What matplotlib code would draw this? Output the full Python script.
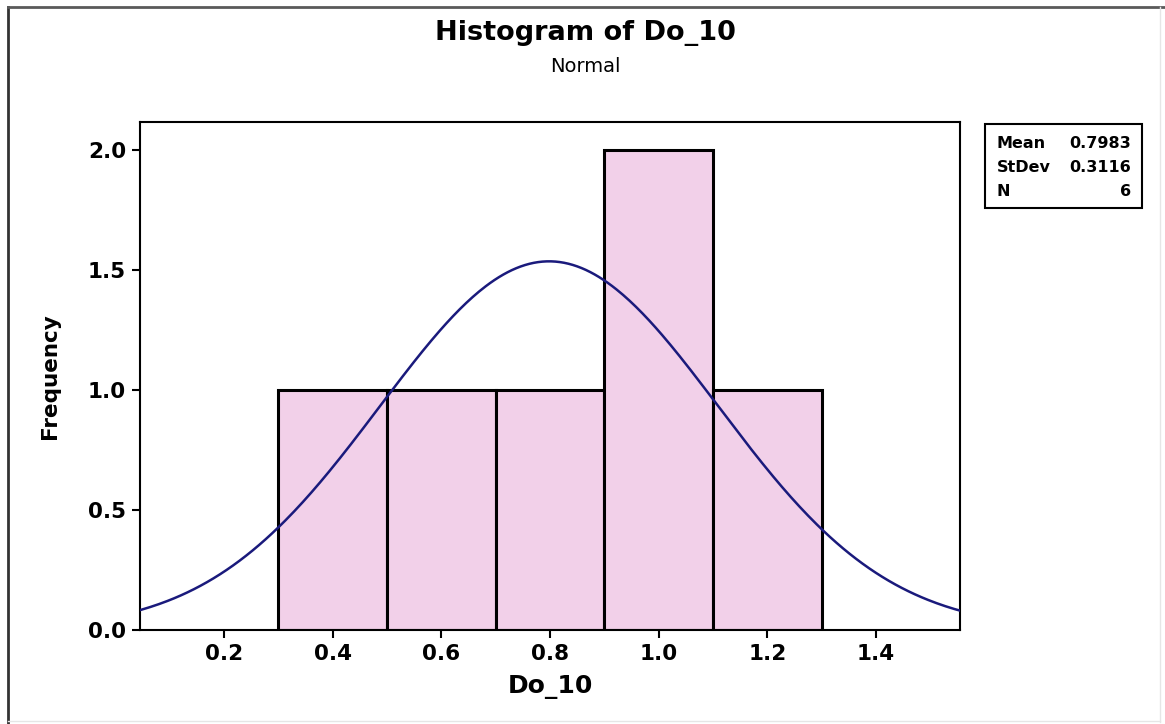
import numpy as np
import matplotlib
matplotlib.use("Agg")
import matplotlib.pyplot as plt
from matplotlib.lines import Line2D
from matplotlib.patches import Rectangle

# Data
bin_edges = [0.3, 0.5, 0.7, 0.9, 1.1, 1.3]
counts = [1, 1, 1, 2, 1]
mean_val = 0.7983
stdev_val = 0.3116
n_val = 6
x_ticks = [0.2, 0.4, 0.6, 0.8, 1.0, 1.2, 1.4]
y_ticks = [0.0, 0.5, 1.0, 1.5, 2.0]

plt.rcParams['font.family'] = ['DejaVu Sans']

W, H = 1165, 724
fig = plt.figure(figsize=(W / 100, H / 100), dpi=100)
ax = fig.add_axes([140 / W, 1 - 630 / H, (960 - 140) / W, (630 - 122) / H])

lefts = bin_edges[:-1]
widths = np.diff(bin_edges)
ax.bar(lefts, counts, width=widths, align='edge', color='#f2d0e9',
       edgecolor='black', linewidth=2.2, zorder=2)

binw = widths[0]
xs = np.linspace(0.0, 1.6, 400)
ys = n_val * binw / (stdev_val * np.sqrt(2 * np.pi)) * np.exp(-0.5 * ((xs - mean_val) / stdev_val) ** 2)
ax.plot(xs, ys, color='#1a1a7c', linewidth=1.8, zorder=3)

ax.set_xlim(0.0453, 1.5547)
ax.set_ylim(0, 2.117)
ax.set_xticks(x_ticks)
ax.set_xticklabels([f"{v:.1f}" for v in x_ticks])
ax.set_yticks(y_ticks)
ax.set_yticklabels([f"{v:.1f}" for v in y_ticks])
ax.tick_params(direction='out', length=6, width=1.5, labelsize=15.5, pad=4)
for lbl in ax.get_xticklabels() + ax.get_yticklabels():
    lbl.set_fontweight('bold')
for s in ax.spines.values():
    s.set_linewidth(1.5)

ax.set_xlabel('Do_10', fontsize=18, fontweight='heavy', labelpad=8)
ax.set_ylabel('Frequency', fontsize=15.5, fontweight='heavy', labelpad=20)

fig.text(585 / W, 1 - 33 / H, 'Histogram of Do_10', ha='center', va='center',
         fontsize=19.5, fontweight='heavy')
fig.text(585 / W, 1 - 66 / H, 'Normal', ha='center', va='center', fontsize=14)

# Stats box
bx0, bx1, by0, by1 = 985, 1142, 124, 208
fig.add_artist(Rectangle((bx0 / W, 1 - by1 / H), (bx1 - bx0) / W, (by1 - by0) / H,
                         transform=fig.transFigure, fill=False, edgecolor='black', linewidth=1.5))
rows = [('Mean', f"{mean_val:.4f}"), ('StDev', f"{stdev_val:.4f}"), ('N', f"{n_val}")]
for i, (k, v) in enumerate(rows):
    yy = 1 - (144 + i * 24) / H
    fig.text(997 / W, yy, k, ha='left', va='center', fontsize=11.5, fontweight='bold')
    fig.text(1131 / W, yy, v, ha='right', va='center', fontsize=11.5, fontweight='bold')

# Outer frame
fig.add_artist(Line2D([8 / W, 8 / W], [0, 1 - 7 / H], transform=fig.transFigure, color='#333333', linewidth=2))
fig.add_artist(Line2D([8 / W, 1], [1 - 7 / H, 1 - 7 / H], transform=fig.transFigure, color='#5a5a5a', linewidth=2))
fig.add_artist(Line2D([1160 / W, 1160 / W], [2 / H, 1 - 7 / H], transform=fig.transFigure, color='#e6e6e6', linewidth=1))
fig.add_artist(Line2D([8 / W, 1160 / W], [3 / H, 3 / H], transform=fig.transFigure, color='#e6e6e6', linewidth=1))

fig.savefig('out.png', dpi=100)
